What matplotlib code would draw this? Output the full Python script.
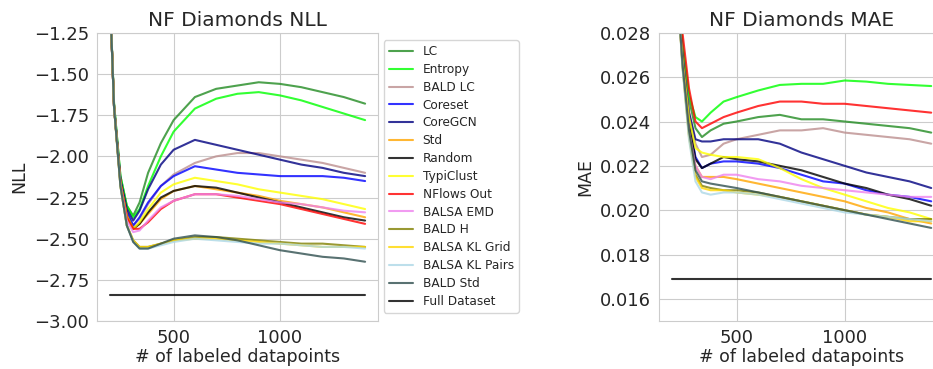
import numpy as np
import matplotlib
matplotlib.use("Agg")
import matplotlib.pyplot as plt
import seaborn as sns

sns.set_style("whitegrid")

x = [200, 220, 250, 280, 310, 340, 380, 440, 500, 600, 700, 800, 900, 1000, 1100, 1200, 1300, 1400]

names = ["LC", "Entropy", "BALD LC", "Coreset", "CoreGCN", "Std", "Random", "TypiClust",
         "NFlows Out", "BALSA EMD", "BALD H", "BALSA KL Grid", "BALSA KL Pairs", "BALD Std"]
colors = ["forestgreen", "lime", "rosybrown", "blue", "navy", "orange", "black", "yellow",
          "red", "violet", "olive", "gold", "lightblue", "darkslategray"]

nll = {
    "LC":         [-1.0, -1.68, -2.12, -2.30, -2.36, -2.28, -2.10, -1.92, -1.78, -1.64, -1.59, -1.57, -1.55, -1.56, -1.58, -1.61, -1.64, -1.68],
    "Entropy":    [-1.0, -1.68, -2.12, -2.30, -2.37, -2.32, -2.18, -2.00, -1.85, -1.71, -1.65, -1.62, -1.61, -1.63, -1.66, -1.70, -1.74, -1.78],
    "BALD LC":    [-1.0, -1.70, -2.15, -2.34, -2.42, -2.38, -2.29, -2.18, -2.11, -2.04, -2.00, -1.98, -1.98, -2.00, -2.02, -2.04, -2.07, -2.10],
    "Coreset":    [-1.0, -1.70, -2.15, -2.34, -2.42, -2.37, -2.28, -2.18, -2.12, -2.06, -2.08, -2.10, -2.11, -2.12, -2.12, -2.12, -2.13, -2.15],
    "CoreGCN":    [-1.0, -1.70, -2.14, -2.32, -2.39, -2.33, -2.20, -2.05, -1.96, -1.90, -1.93, -1.96, -1.99, -2.02, -2.05, -2.07, -2.10, -2.12],
    "Std":        [-1.0, -1.70, -2.16, -2.36, -2.44, -2.41, -2.35, -2.26, -2.21, -2.18, -2.20, -2.22, -2.24, -2.27, -2.29, -2.31, -2.34, -2.37],
    "Random":     [-1.0, -1.70, -2.16, -2.36, -2.44, -2.41, -2.34, -2.25, -2.21, -2.18, -2.19, -2.22, -2.25, -2.28, -2.31, -2.34, -2.37, -2.39],
    "TypiClust":  [-1.0, -1.70, -2.16, -2.36, -2.44, -2.40, -2.32, -2.22, -2.17, -2.13, -2.15, -2.17, -2.20, -2.22, -2.24, -2.26, -2.29, -2.32],
    "NFlows Out": [-1.0, -1.70, -2.16, -2.37, -2.44, -2.44, -2.40, -2.32, -2.27, -2.23, -2.23, -2.25, -2.27, -2.29, -2.32, -2.35, -2.38, -2.41],
    "BALSA EMD":  [-1.0, -1.70, -2.17, -2.39, -2.46, -2.45, -2.39, -2.31, -2.27, -2.23, -2.23, -2.24, -2.26, -2.28, -2.29, -2.31, -2.33, -2.34],
    "BALD H":     [-1.0, -1.70, -2.18, -2.42, -2.51, -2.55, -2.55, -2.53, -2.51, -2.49, -2.49, -2.50, -2.51, -2.52, -2.53, -2.53, -2.54, -2.55],
    "BALSA KL Grid":  [-1.0, -1.70, -2.18, -2.42, -2.51, -2.55, -2.55, -2.53, -2.51, -2.50, -2.50, -2.51, -2.52, -2.53, -2.54, -2.55, -2.55, -2.55],
    "BALSA KL Pairs": [-1.0, -1.70, -2.18, -2.42, -2.52, -2.56, -2.56, -2.54, -2.52, -2.50, -2.51, -2.52, -2.53, -2.53, -2.54, -2.55, -2.55, -2.56],
    "BALD Std":   [-1.0, -1.70, -2.18, -2.42, -2.52, -2.56, -2.56, -2.53, -2.50, -2.48, -2.49, -2.51, -2.54, -2.57, -2.59, -2.61, -2.62, -2.64],
}

mae = {
    "LC":         [0.033, 0.031, 0.0275, 0.0250, 0.0237, 0.0233, 0.0236, 0.0239, 0.0240, 0.0242, 0.0243, 0.0241, 0.0241, 0.0240, 0.0239, 0.0238, 0.0237, 0.0235],
    "Entropy":    [0.033, 0.031, 0.0275, 0.0252, 0.0242, 0.0240, 0.0244, 0.0249, 0.0251, 0.0254, 0.02565, 0.0257, 0.0257, 0.02585, 0.0258, 0.0257, 0.02565, 0.0256],
    "BALD LC":    [0.033, 0.031, 0.0270, 0.0245, 0.0230, 0.0224, 0.0225, 0.0230, 0.0232, 0.0234, 0.0236, 0.0236, 0.0237, 0.0235, 0.0234, 0.0233, 0.0232, 0.0230],
    "Coreset":    [0.033, 0.031, 0.0268, 0.0240, 0.0224, 0.0219, 0.0221, 0.0222, 0.0222, 0.0221, 0.0219, 0.0216, 0.0213, 0.0212, 0.0209, 0.0207, 0.0206, 0.0204],
    "CoreGCN":    [0.033, 0.031, 0.0270, 0.0244, 0.0232, 0.0231, 0.0231, 0.0232, 0.0232, 0.0232, 0.0230, 0.0226, 0.0223, 0.0220, 0.0217, 0.0215, 0.0213, 0.0210],
    "Std":        [0.033, 0.031, 0.0266, 0.0236, 0.0220, 0.0215, 0.0215, 0.0215, 0.0214, 0.0212, 0.0210, 0.0208, 0.0206, 0.0204, 0.0201, 0.0199, 0.0196, 0.0194],
    "Random":     [0.033, 0.031, 0.0268, 0.0240, 0.0223, 0.0219, 0.0221, 0.0224, 0.0223, 0.0222, 0.0220, 0.0218, 0.0215, 0.0212, 0.0210, 0.0207, 0.0205, 0.0202],
    "TypiClust":  [0.033, 0.031, 0.0268, 0.0242, 0.0228, 0.0226, 0.0225, 0.0224, 0.0224, 0.0223, 0.0219, 0.0214, 0.0210, 0.0207, 0.0204, 0.0201, 0.0199, 0.0196],
    "NFlows Out": [0.033, 0.031, 0.0280, 0.0255, 0.0240, 0.0237, 0.0239, 0.0242, 0.0244, 0.0247, 0.0249, 0.0249, 0.0248, 0.0248, 0.0247, 0.0246, 0.0245, 0.0244],
    "BALSA EMD":  [0.033, 0.031, 0.0266, 0.0236, 0.0220, 0.0215, 0.0214, 0.0216, 0.0216, 0.0214, 0.0213, 0.0211, 0.0210, 0.0209, 0.0208, 0.0207, 0.0206, 0.0206],
    "BALD H":     [0.033, 0.031, 0.0265, 0.0234, 0.0216, 0.0211, 0.0210, 0.0209, 0.0209, 0.0208, 0.0206, 0.0204, 0.0202, 0.0200, 0.0198, 0.0197, 0.0196, 0.0196],
    "BALSA KL Grid":  [0.033, 0.031, 0.0265, 0.0233, 0.0215, 0.0210, 0.0209, 0.0209, 0.0208, 0.0207, 0.0206, 0.0204, 0.0202, 0.0200, 0.0198, 0.0197, 0.0195, 0.0195],
    "BALSA KL Pairs": [0.033, 0.031, 0.0264, 0.0232, 0.0213, 0.0208, 0.0207, 0.0208, 0.0208, 0.0207, 0.0205, 0.0203, 0.0201, 0.0199, 0.0198, 0.0197, 0.0196, 0.0195],
    "BALD Std":   [0.033, 0.031, 0.0266, 0.0236, 0.0218, 0.0213, 0.0212, 0.0211, 0.0210, 0.0208, 0.0206, 0.0204, 0.0202, 0.0200, 0.0198, 0.0196, 0.0194, 0.0192],
}

full_nll = -2.84
full_mae = 0.0169

fig = plt.figure(figsize=(9.33, 3.69), dpi=100)
ax1 = fig.add_axes([0.104, 0.130, 0.301, 0.781])
ax2 = fig.add_axes([0.706, 0.130, 0.306, 0.781])

for ax, data, full, title, ylab in [(ax1, nll, full_nll, "NF Diamonds NLL", "NLL"),
                                    (ax2, mae, full_mae, "NF Diamonds MAE", "MAE")]:
    for n, c in zip(names, colors):
        ax.plot(x, data[n], color=c, lw=1.5, alpha=0.8, label=n)
    ax.plot([x[0], x[-1]], [full, full], color="black", lw=1.5, alpha=0.8, label="Full Dataset")
    ax.set_title(title, fontsize=14.5, pad=5)
    ax.set_xlabel("# of labeled datapoints", fontsize=12.5, labelpad=1)
    ax.set_ylabel(ylab, fontsize=12.5)
    ax.tick_params(labelsize=13, pad=2)
    ax.set_xlim(140, 1460)
    ax.set_xticks([500, 1000])

ax1.set_ylim(-3.0, -1.25)
ax1.set_yticks([-3.0, -2.75, -2.5, -2.25, -2.0, -1.75, -1.5, -1.25])
ax1.set_yticklabels(["−3.00", "−2.75", "−2.50", "−2.25", "−2.00", "−1.75", "−1.50", "−1.25"])
ax2.set_ylim(0.015, 0.028)
ax2.set_yticks([0.016, 0.018, 0.020, 0.022, 0.024, 0.026, 0.028])
ax2.set_yticklabels(["0.016", "0.018", "0.020", "0.022", "0.024", "0.026", "0.028"])

ax1.legend(loc="upper left", bbox_to_anchor=(1.0, 0.995), fontsize=8.7, labelspacing=0.40,
           frameon=True)

fig.savefig("out.png", dpi=100)
